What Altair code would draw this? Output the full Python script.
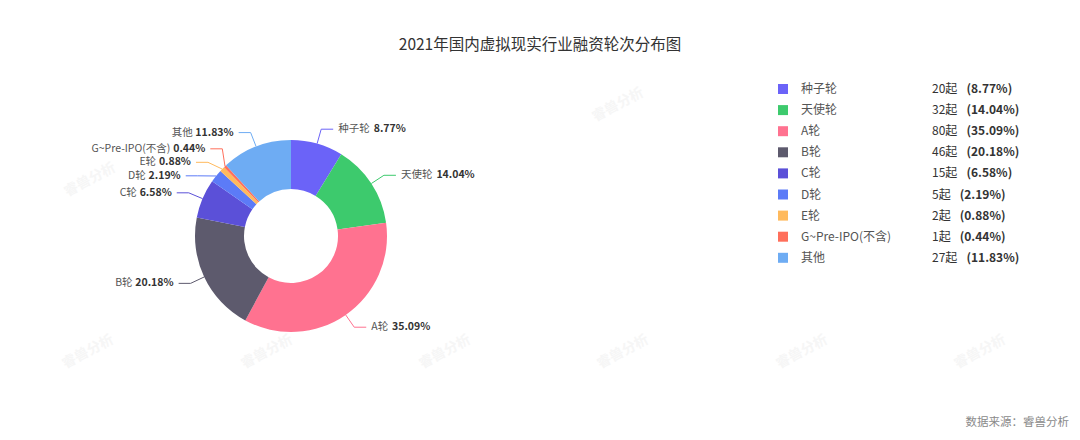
import math
import altair as alt
import pandas as pd

# ---------------- data ----------------
title_text = "2021年国内虚拟现实行业融资轮次分布图"
source_text = "数据来源：睿兽分析"
watermark_text = "睿兽分析"
categories = ["种子轮", "天使轮", "A轮", "B轮", "C轮", "D轮", "E轮", "G~Pre-IPO(不含)", "其他"]
counts = [20, 32, 80, 46, 15, 5, 2, 1, 27]
pct_labels = ["8.77%", "14.04%", "35.09%", "20.18%", "6.58%", "2.19%", "0.88%", "0.44%", "11.83%"]
colors = ["#6B63F8", "#3DCA6D", "#FF7290", "#5D5A6D", "#5B50D8", "#5C7BF7", "#FFBA5D", "#FF6F5B", "#6EACF3"]

# ---------------- layout (page pixels) ----------------
FONT = "Noto Sans CJK SC"
CX, CY = 291, 236
R_OUT, R_IN = 96, 47
L1, L2, GAP = 15, 12, 5
LAB_FS = 10.5
LEG_FS = 12
MIN_GAP = 13.5


def text_width(s, fs, bold=False):
    w = 0.0
    table = {".": 0.27, "%": 0.88, "(": 0.34, ")": 0.34, "~": 0.56, "-": 0.34,
             "G": 0.64, "P": 0.6, "r": 0.36, "e": 0.54, "I": 0.28, "O": 0.7,
             "A": 0.6, "B": 0.62, "C": 0.6, "D": 0.66, "E": 0.56}
    for ch in s:
        if ord(ch) > 0x2E80:
            w += 1.0
        elif ch.isdigit():
            w += 0.56
        else:
            w += table.get(ch, 0.55)
    return w * fs * (1.04 if bold else 1.0)


total = sum(counts)
slices = []
cum = 0.0
for i, (c, n) in enumerate(zip(categories, counts)):
    frac = n / total
    mid = (cum + frac / 2) * 2 * math.pi
    cum += frac
    s, co = math.sin(mid), math.cos(mid)
    slices.append({
        "idx": i, "cat": c, "n": n, "pct": pct_labels[i],
        "ex": CX + R_OUT * s, "ey": CY - R_OUT * co,
        "by": CY - (R_OUT + L1) * co,
        "side": 1 if s >= 0 else -1,
    })

# spread labels vertically on each side to avoid overlaps (downward-biased)
for side in (1, -1):
    group = sorted([d for d in slices if d["side"] == side], key=lambda d: d["by"])
    for _ in range(400):
        for j in range(1, len(group)):
            d = group[j]["by"] - group[j - 1]["by"]
            if d < MIN_GAP:
                sh = MIN_GAP - d
                group[j - 1]["by"] -= sh * 0.4
                group[j]["by"] += sh * 0.6

R1 = R_OUT + L1
line_rows, name_rows, pct_rows = [], [], []
for d in slices:
    dy = d["by"] - CY
    dx = math.sqrt(max(R1 * R1 - dy * dy, 0.0))
    bx = CX + d["side"] * dx
    endx = bx + d["side"] * L2
    line_rows += [
        {"cat": d["cat"], "k": 0, "px": d["ex"], "py": d["ey"]},
        {"cat": d["cat"], "k": 1, "px": bx, "py": d["by"]},
        {"cat": d["cat"], "k": 2, "px": endx, "py": d["by"]},
    ]
    anchor = endx + d["side"] * GAP
    if d["side"] == 1:
        name_rows.append({"t": d["cat"], "px": anchor, "py": d["by"], "al": "left"})
        pct_rows.append({"t": d["pct"], "px": anchor + text_width(d["cat"], LAB_FS) + 4,
                         "py": d["by"], "al": "left"})
    else:
        name_rows.append({"t": d["cat"], "px": anchor - text_width(d["pct"], LAB_FS, True) - 4,
                          "py": d["by"], "al": "right"})
        pct_rows.append({"t": d["pct"], "px": anchor, "py": d["by"], "al": "right"})

df_arc = pd.DataFrame({"cat": categories, "n": counts, "idx": list(range(len(categories)))})
df_lines = pd.DataFrame(line_rows)
df_names_r = pd.DataFrame([r for r in name_rows if r["al"] == "left"])
df_names_l = pd.DataFrame([r for r in name_rows if r["al"] == "right"])
df_pct_r = pd.DataFrame([r for r in pct_rows if r["al"] == "left"])
df_pct_l = pd.DataFrame([r for r in pct_rows if r["al"] == "right"])

# legend table
LEG_X_SQ, LEG_X_NAME, LEG_X_CNT = 783, 801, 932
LEG_Y0, LEG_DY = 89, 21.1
leg_rows = []
for i, c in enumerate(categories):
    cnt = f"{counts[i]}起"
    leg_rows.append({
        "cat": c, "cnt": cnt, "pct": f"({pct_labels[i]})",
        "py": LEG_Y0 + i * LEG_DY,
        "sqx": LEG_X_SQ, "nx": LEG_X_NAME, "cx": LEG_X_CNT,
        "ppx": LEG_X_CNT + text_width(cnt, LEG_FS) + 9,
    })
df_leg = pd.DataFrame(leg_rows)

# watermark placement
wm_x = [88, 267, 445, 623, 802, 980, 618, 90]
wm_y = [352, 352, 352, 352, 352, 352, 105, 180]
df_wm = pd.DataFrame({"t": [watermark_text] * len(wm_x), "px": wm_x, "py": wm_y})

# ---------------- chart ----------------
xs = alt.Scale(domain=[8, 1072], nice=False, zero=False)
ys = alt.Scale(domain=[432, 8], nice=False, zero=False)
cscale = alt.Scale(domain=categories, range=colors)
X = lambda f: alt.X(f, type="quantitative", scale=xs, axis=None)
Y = lambda f: alt.Y(f, type="quantitative", scale=ys, axis=None)

wm = alt.Chart(df_wm).mark_text(
    align="center", baseline="middle", font=FONT, fontSize=14, fontWeight="bold",
    color="#F6F6F6", angle=332,
).encode(x=X("px"), y=Y("py"), text="t:N")

arc = alt.Chart(df_arc).mark_arc(outerRadius=R_OUT, innerRadius=R_IN).encode(
    theta=alt.Theta("n:Q", stack=True),
    color=alt.Color("cat:N", scale=cscale, legend=None),
    order=alt.Order("idx:Q"),
    x=alt.value(CX - 8), y=alt.value(CY - 8),
)

lines = alt.Chart(df_lines).mark_line(strokeWidth=1).encode(
    x=X("px"), y=Y("py"),
    color=alt.Color("cat:N", scale=cscale, legend=None),
    detail="cat:N", order="k:Q",
)


def txt(df, align, bold, fs, color, field="t", xf="px"):
    return alt.Chart(df).mark_text(
        align=align, baseline="middle", font=FONT, fontSize=fs,
        fontWeight="bold" if bold else "normal", color=color,
    ).encode(x=X(xf), y=Y("py"), text=f"{field}:N")


labels = [
    txt(df_names_r, "left", False, LAB_FS, "#555555"),
    txt(df_names_l, "right", False, LAB_FS, "#555555"),
    txt(df_pct_r, "left", True, LAB_FS, "#333333"),
    txt(df_pct_l, "right", True, LAB_FS, "#333333"),
]

leg_sq = alt.Chart(df_leg).mark_square(size=100, opacity=1, filled=True).encode(
    x=X("sqx"), y=Y("py"),
    color=alt.Color("cat:N", scale=cscale, legend=None),
)
leg_name = txt(df_leg, "left", False, LEG_FS, "#555555", field="cat", xf="nx")
leg_cnt = txt(df_leg, "left", False, LEG_FS, "#333333", field="cnt", xf="cx")
leg_pct = txt(df_leg, "left", True, LEG_FS, "#333333", field="pct", xf="ppx")

title = alt.Chart(pd.DataFrame({"t": [title_text]})).mark_text(
    align="center", baseline="middle", font=FONT, fontSize=15.5, color="#333333"
).encode(x=alt.value(532), y=alt.value(37), text="t:N")

source = alt.Chart(pd.DataFrame({"t": [source_text]})).mark_text(
    align="right", baseline="middle", font=FONT, fontSize=11.5, color="#8A8A8A"
).encode(x=alt.value(1061), y=alt.value(415), text="t:N")

chart = alt.layer(
    wm, arc, lines, *labels, leg_sq, leg_name, leg_cnt, leg_pct, title, source
).properties(
    width=1064, height=424, padding=0,
    autosize=alt.AutoSizeParams(type="none"),
).configure(background="white").configure_view(stroke=None)

chart.save("out.html", embed_options={"renderer": "svg", "actions": False})
